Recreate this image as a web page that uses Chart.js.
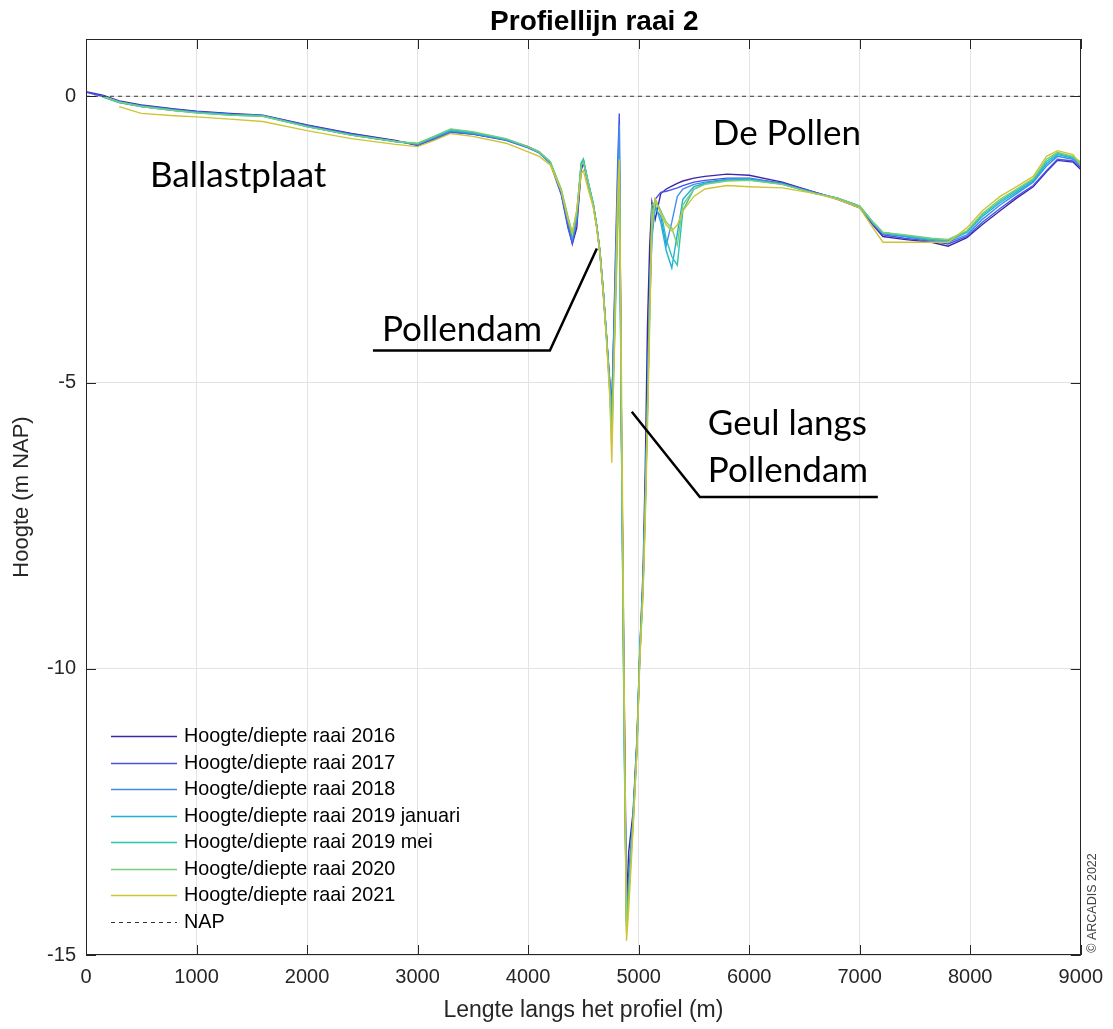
<!DOCTYPE html>
<html>
<head>
<meta charset="utf-8">
<script src="https://cdn.jsdelivr.net/npm/chart.js@4.4.0/dist/chart.umd.min.js"></script>
<style>
  html, body { margin: 0; padding: 0; background: #fff; }
  #wrap { width: 1113px; height: 1029px; }
</style>
</head>
<body>
<div id="wrap"><canvas id="grafiekRaai" width="1113" height="1029"></canvas></div>
<script>
// afstand langs het profiel (m)
const afstand = [
    0, 150, 300, 500, 800, 1000, 1300, 1600, 2000, 2400,
    2800, 3000, 3150, 3300, 3500, 3800, 4000, 4100, 4200, 4300,
    4360, 4400, 4440, 4480, 4500, 4540, 4590, 4620, 4650, 4680,
    4710, 4740, 4757, 4790, 4810, 4825, 4845, 4870, 4890, 4910,
    4950, 4985, 5010, 5040, 5060, 5080, 5100, 5120, 5150, 5200,
    5250, 5300, 5350, 5400, 5500, 5600, 5800, 6000, 6300, 6600,
    6800, 7000, 7120, 7210, 7400, 7650, 7800, 7970, 8110, 8270,
    8420, 8570, 8690, 8790, 8930, 9000
];

// hoogte (m NAP) per opname
const raai2016 = [
    0.08, 0.02, -0.08, -0.15, -0.22, -0.26, -0.30, -0.33, -0.50, -0.65,
    -0.77, -0.86, -0.74, -0.62, -0.66, -0.76, -0.88, -0.97, -1.15, -1.70,
    -2.25, -2.58, -2.30, -1.30, -1.15, -1.50, -1.90, -2.25, -2.70, -3.40,
    -4.20, -5.00, -5.40, -3.20, -1.80, -0.90, -5.80, -10.5, -14.1, -13.2,
    -12.5, -11.2, -9.7, -8.3, -6.5, -4.0, -2.6, -1.85, -2.15, -1.70,
    -1.62, -1.57, -1.52, -1.48, -1.43, -1.40, -1.36, -1.38, -1.50, -1.68,
    -1.80, -1.95, -2.25, -2.45, -2.50, -2.55, -2.62, -2.47, -2.24, -2.00,
    -1.78, -1.58, -1.32, -1.12, -1.15, -1.28
];
const raai2017 = [
    0.07, 0.00, -0.10, -0.16, -0.23, -0.27, -0.31, -0.34, -0.51, -0.66,
    -0.78, -0.85, -0.76, -0.63, -0.66, -0.77, -0.90, -0.99, -1.17, -1.72,
    -2.30, -2.56, -2.20, -1.25, -1.13, -1.50, -1.92, -2.28, -2.75, -3.45,
    -4.25, -5.10, -5.60, -2.80, -1.20, -0.30, -5.90, -10.8, -14.3, -13.6,
    -12.6, -11.3, -9.8, -8.5, -7.0, -5.2, -3.4, -2.30, -1.80, -1.68,
    -1.66, -1.63, -1.60, -1.56, -1.50, -1.47, -1.43, -1.43, -1.52, -1.68,
    -1.79, -1.94, -2.24, -2.42, -2.48, -2.53, -2.58, -2.45, -2.20, -1.96,
    -1.75, -1.56, -1.30, -1.10, -1.13, -1.25
];
const raai2018 = [
    null, 0.00, -0.10, -0.17, -0.24, -0.28, -0.32, -0.34, -0.52, -0.67,
    -0.79, -0.84, -0.73, -0.61, -0.65, -0.76, -0.89, -0.98, -1.16, -1.68,
    -2.20, -2.50, -2.15, -1.20, -1.12, -1.48, -1.90, -2.26, -2.73, -3.42,
    -4.22, -5.05, -5.50, -3.00, -1.50, -0.50, -5.90, -11.0, -14.4, -13.8,
    -12.7, -11.4, -9.8, -8.6, -7.2, -5.5, -3.6, -2.40, -1.95, -2.10,
    -2.60, -2.20, -1.75, -1.62, -1.54, -1.50, -1.45, -1.44, -1.53, -1.69,
    -1.78, -1.93, -2.22, -2.40, -2.45, -2.52, -2.55, -2.42, -2.15, -1.90,
    -1.70, -1.50, -1.22, -1.05, -1.10, -1.22
];
const raai2019jan = [
    null, -0.01, -0.11, -0.18, -0.25, -0.28, -0.32, -0.34, -0.53, -0.68,
    -0.79, -0.83, -0.71, -0.60, -0.64, -0.75, -0.89, -0.98, -1.15, -1.65,
    -2.15, -2.45, -2.10, -1.18, -1.10, -1.47, -1.88, -2.25, -2.72, -3.40,
    -4.20, -5.10, -5.80, -3.50, -1.90, -1.00, -6.00, -11.2, -14.5, -13.9,
    -12.6, -11.3, -9.7, -8.5, -7.1, -5.4, -3.7, -2.50, -1.90, -2.20,
    -2.70, -3.00, -2.40, -1.80, -1.58, -1.52, -1.46, -1.45, -1.53, -1.70,
    -1.78, -1.92, -2.20, -2.38, -2.44, -2.50, -2.53, -2.38, -2.10, -1.86,
    -1.67, -1.48, -1.18, -1.02, -1.08, -1.20
];
const raai2019mei = [
    null, -0.01, -0.11, -0.18, -0.25, -0.29, -0.33, -0.35, -0.53, -0.68,
    -0.79, -0.83, -0.70, -0.58, -0.63, -0.75, -0.89, -0.98, -1.15, -1.64,
    -2.12, -2.42, -2.05, -1.16, -1.10, -1.47, -1.88, -2.25, -2.72, -3.40,
    -4.20, -5.15, -5.90, -3.60, -2.10, -1.30, -6.10, -11.3, -14.4, -13.9,
    -12.6, -11.3, -9.7, -8.5, -7.1, -5.4, -3.6, -2.10, -1.80, -2.00,
    -2.50, -2.80, -2.95, -2.00, -1.62, -1.53, -1.47, -1.46, -1.54, -1.70,
    -1.78, -1.92, -2.20, -2.38, -2.43, -2.50, -2.52, -2.36, -2.07, -1.83,
    -1.64, -1.46, -1.14, -1.00, -1.07, -1.18
];
const raai2020 = [
    null, 0.00, -0.10, -0.18, -0.25, -0.29, -0.33, -0.35, -0.53, -0.68,
    -0.79, -0.82, -0.70, -0.57, -0.62, -0.74, -0.88, -0.97, -1.14, -1.62,
    -2.10, -2.38, -2.00, -1.20, -1.15, -1.48, -1.90, -2.27, -2.74, -3.42,
    -4.22, -5.20, -6.10, -3.80, -2.40, -1.50, -6.20, -11.5, -14.6, -14.0,
    -12.7, -11.4, -9.8, -8.6, -7.2, -5.5, -3.8, -1.90, -1.85, -2.00,
    -2.20, -2.30, -2.60, -1.90, -1.62, -1.54, -1.48, -1.47, -1.54, -1.70,
    -1.78, -1.92, -2.20, -2.38, -2.42, -2.48, -2.50, -2.35, -2.05, -1.80,
    -1.62, -1.44, -1.10, -0.98, -1.05, -1.15
];
const raai2021 = [
    null, null, -0.18, -0.30, -0.34, -0.36, -0.40, -0.44, -0.60, -0.74,
    -0.84, -0.88, -0.77, -0.65, -0.70, -0.82, -0.97, -1.05, -1.20, -1.65,
    -2.15, -2.40, -2.00, -1.35, -1.30, -1.60, -1.95, -2.30, -2.75, -3.45,
    -4.30, -5.30, -6.40, -3.50, -1.80, -1.10, -5.00, -10.5, -14.75, -14.2,
    -12.8, -11.4, -9.9, -8.7, -7.4, -5.8, -4.0, -2.30, -1.80, -2.05,
    -2.25, -2.35, -2.25, -2.00, -1.75, -1.62, -1.56, -1.58, -1.60, -1.70,
    -1.80, -1.95, -2.30, -2.55, -2.55, -2.55, -2.55, -2.30, -2.00, -1.75,
    -1.58, -1.40, -1.05, -0.95, -1.02, -1.20
];
const napAfstand = [0, 9000];
const napHoogte = [0, 0];

const reeksNamen = [
    'Hoogte/diepte raai 2016', 'Hoogte/diepte raai 2017', 'Hoogte/diepte raai 2018',
    'Hoogte/diepte raai 2019 januari', 'Hoogte/diepte raai 2019 mei',
    'Hoogte/diepte raai 2020', 'Hoogte/diepte raai 2021', 'NAP'
];
const reeksKleuren = ['#3d27a8', '#4a52e6', '#3f8ef0', '#1fb0de', '#2cc4ad', '#79cd7a', '#cdc536', '#333333'];

const xTicks = [0, 1000, 2000, 3000, 4000, 5000, 6000, 7000, 8000, 9000];
const yTicks = [-15, -10, -5, 0];

// teksten in de grafiek (positie in m / m NAP)
const teksten = [
    { tekst: 'Ballastplaat', x: 579, y: -1.58 },
    { tekst: 'De Pollen', x: 5671, y: -0.86 },
    { tekst: 'Pollendam', x: 2677, y: -4.27 },
    { tekst: 'Geul langs', x: 5626, y: -5.91 },
    { tekst: 'Pollendam', x: 5626, y: -6.74 }
];
const wijzers = [
    [[2596, -4.44], [4197, -4.44], [4622, -2.66]],
    [[4938, -5.51], [5554, -7.0], [7164, -7.0]]
];

const FONT = '"Liberation Sans", Arial, sans-serif';

function maakPunten(xs, ys) {
    return xs.map((x, i) => ({ x: x, y: ys[i] }));
}

const reeksen = [raai2016, raai2017, raai2018, raai2019jan, raai2019mei, raai2020, raai2021];
const datasets = reeksen.map((waarden, i) => ({
    label: reeksNamen[i],
    data: maakPunten(afstand, waarden),
    borderColor: reeksKleuren[i],
    borderWidth: 1.4,
    pointRadius: 0,
    tension: 0,
    order: reeksen.length - i
}));
datasets.push({
    label: 'NAP',
    data: maakPunten(napAfstand, napHoogte),
    borderColor: reeksKleuren[7],
    borderWidth: 1,
    borderDash: [4, 4],
    pointRadius: 0,
    order: 0
});

const extraTekenen = {
    id: 'extraTekenen',
    beforeDraw(chart) {
        const ctx = chart.ctx;
        ctx.save();
        ctx.fillStyle = '#ffffff';
        ctx.fillRect(0, 0, chart.width, chart.height);
        ctx.restore();
    },
    afterDraw(chart) {
        const { ctx, chartArea: a, scales: { x, y } } = chart;
        ctx.save();

        // kader
        ctx.strokeStyle = '#262626';
        ctx.lineWidth = 1;
        ctx.strokeRect(Math.round(a.left) + 0.5, Math.round(a.top) + 0.5,
            Math.round(a.right - a.left) - 1, Math.round(a.bottom - a.top) - 1);

        // tickjes naar binnen
        ctx.beginPath();
        xTicks.forEach(v => {
            const px = Math.round(x.getPixelForValue(v)) + 0.5;
            ctx.moveTo(px, a.bottom); ctx.lineTo(px, a.bottom - 10);
            ctx.moveTo(px, a.top); ctx.lineTo(px, a.top + 10);
        });
        yTicks.forEach(v => {
            const py = Math.round(y.getPixelForValue(v)) + 0.5;
            ctx.moveTo(a.left, py); ctx.lineTo(a.left + 10, py);
            ctx.moveTo(a.right, py); ctx.lineTo(a.right - 10, py);
        });
        ctx.stroke();

        // annotaties
        ctx.fillStyle = '#000';
        ctx.font = '35px Lato, "Open Sans", sans-serif';
        ctx.textAlign = 'left';
        ctx.textBaseline = 'alphabetic';
        teksten.forEach(t => {
            ctx.fillText(t.tekst, x.getPixelForValue(t.x), y.getPixelForValue(t.y));
        });
        ctx.lineWidth = 2.5;
        ctx.strokeStyle = '#000';
        wijzers.forEach(lijn => {
            ctx.beginPath();
            lijn.forEach((p, i) => {
                const px = x.getPixelForValue(p[0]);
                const py = y.getPixelForValue(p[1]);
                if (i === 0) ctx.moveTo(px, py); else ctx.lineTo(px, py);
            });
            ctx.stroke();
        });

        // legenda
        const lx = a.left + 25;
        let ly = a.bottom - 219;
        ctx.font = '19.8px ' + FONT;
        ctx.textBaseline = 'middle';
        chart.data.datasets.forEach(ds => {
            ctx.beginPath();
            ctx.strokeStyle = ds.borderColor;
            ctx.lineWidth = ds.borderWidth;
            ctx.setLineDash(ds.borderDash || []);
            ctx.moveTo(lx, Math.round(ly) + 0.5);
            ctx.lineTo(lx + 66, Math.round(ly) + 0.5);
            ctx.stroke();
            ctx.setLineDash([]);
            ctx.fillStyle = '#000';
            ctx.fillText(ds.label, lx + 73, ly + 1);
            ly += 26.5;
        });

        // titel
        ctx.font = 'bold 28px ' + FONT;
        ctx.textAlign = 'center';
        ctx.fillStyle = '#000';
        ctx.fillText('Profiellijn raai 2', a.left + (a.right - a.left) * 0.511, 22);

        // copyright
        ctx.translate(a.right + 12, a.bottom - 52);
        ctx.rotate(-Math.PI / 2);
        ctx.font = '12.5px ' + FONT;
        ctx.fillStyle = '#444';
        ctx.fillText('\u00A9 ARCADIS 2022', 0, 0);

        ctx.restore();
    }
};

new Chart(document.getElementById('grafiekRaai'), {
    type: 'line',
    data: { datasets: datasets },
    plugins: [extraTekenen],
    options: {
        responsive: false,
        animation: false,
        devicePixelRatio: 1,
        layout: { padding: { top: 39, right: 31, left: 0, bottom: 0 } },
        plugins: {
            legend: { display: false },
            tooltip: { enabled: false },
            title: { display: false }
        },
        scales: {
            x: {
                type: 'linear',
                min: 0,
                max: 9000,
                afterBuildTicks: s => { s.ticks = xTicks.map(v => ({ value: v })); },
                afterFit: s => { s.height = 74; },
                ticks: {
                    callback: v => String(v),
                    font: { family: FONT, size: 20 },
                    color: '#262626',
                    padding: 10,
                    maxRotation: 0
                },
                grid: { color: '#e3e3e3', drawTicks: false },
                border: { display: false },
                title: {
                    display: true,
                    text: 'Lengte langs het profiel (m)',
                    font: { family: FONT, size: 23 },
                    color: '#262626',
                    padding: { top: 0, bottom: 5 }
                }
            },
            y: {
                type: 'linear',
                min: -15,
                max: 1,
                afterBuildTicks: s => { s.ticks = yTicks.map(v => ({ value: v })); },
                afterFit: s => { s.width = 86; },
                ticks: {
                    callback: v => String(v),
                    font: { family: FONT, size: 20 },
                    color: '#262626',
                    padding: 10
                },
                grid: { color: '#e3e3e3', drawTicks: false },
                border: { display: false },
                title: {
                    display: true,
                    text: 'Hoogte (m NAP)',
                    font: { family: FONT, size: 22 },
                    color: '#262626',
                    padding: { top: 9, bottom: 0 }
                }
            }
        }
    }
});
</script>
</body>
</html>
